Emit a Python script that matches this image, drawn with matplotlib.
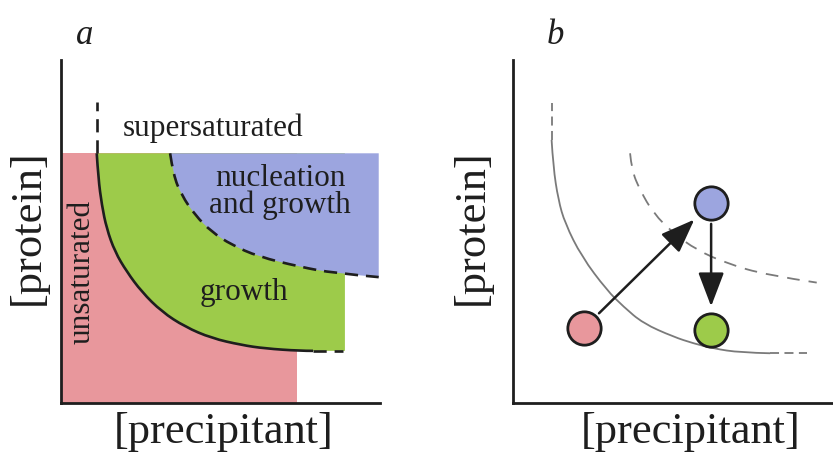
import matplotlib.pyplot as plt
from matplotlib.path import Path
from matplotlib.patches import PathPatch

plt.rcParams['font.family'] = ['Liberation Serif', 'DejaVu Serif']

# panel a: solubility curve (solid part) and nucleation boundary
sol_a_x = [1.12, 1.17, 1.28, 1.43, 1.69, 2.06, 2.53, 3.16, 3.89, 4.72, 5.66, 6.39, 7.49, 7.90]
sol_a_y = [7.28, 6.55, 5.77, 5.09, 4.41, 3.83, 3.24, 2.66, 2.22, 1.89, 1.69, 1.59, 1.52, 1.52]
sol_a_top = 8.78      # dashed continuation upwards
sol_a_end = 8.84      # dashed continuation to the right
nuc_a_x = [3.42, 3.52, 3.78, 4.20, 4.72, 5.35, 6.18, 7.49, 8.53, 9.96]
nuc_a_y = [7.28, 6.65, 6.06, 5.48, 4.99, 4.61, 4.27, 3.97, 3.79, 3.67]
plateau = 7.28
unsat_right = 7.39
growth_right = 8.90

# panel b
sol_b_x = [1.21, 1.26, 1.42, 1.63, 2.15, 2.94, 3.46, 4.08, 5.03, 5.65, 6.28, 7.12, 8.06]
sol_b_y = [7.67, 6.89, 5.92, 5.24, 4.27, 3.29, 2.81, 2.32, 1.93, 1.74, 1.59, 1.47, 1.45]
sol_b_top = 8.74
sol_b_end = 9.21
nuc_b_x = [3.67, 3.72, 3.98, 4.40, 5.03, 5.76, 6.70, 7.95, 9.52]
nuc_b_y = [7.28, 6.79, 6.21, 5.53, 4.95, 4.46, 4.07, 3.73, 3.51]
drop_names = ['unsaturated', 'nucleation', 'growth']
drop_x = [2.23, 6.21, 6.21]
drop_y = [2.19, 5.83, 2.13]

pink = '#e8979c'
green = '#9dcb4a'
blue = '#9ca5df'
ink = '#1e1e1e'
grey = '#7a7a7a'
W, H = 833, 457


def smooth(xs, ys, extra=None):
    # quadratic b-spline through the read points, drawn by matplotlib's Path
    pts = list(zip(xs, ys))
    verts = [pts[0]]
    codes = [Path.MOVETO]
    for i in range(1, len(pts) - 1):
        if i == len(pts) - 2:
            end = pts[-1]
        else:
            end = ((pts[i][0] + pts[i + 1][0]) / 2, (pts[i][1] + pts[i + 1][1]) / 2)
        verts += [pts[i], end]
        codes += [Path.CURVE3, Path.CURVE3]
    if extra:
        for p in extra:
            verts.append(p)
            codes.append(Path.LINETO)
        verts.append(pts[0])
        codes.append(Path.CLOSEPOLY)
    return Path(verts, codes)


fig = plt.figure(figsize=(W / 100, H / 100), dpi=100)
ax_a = fig.add_axes([61 / W, 54 / H, 319 / W, 343 / H])
ax_b = fig.add_axes([513 / W, 54 / H, 320 / W, 343 / H])

for ax, xmax in [(ax_a, 10), (ax_b, 10.03)]:
    ax.set_xlim(0, xmax)
    ax.set_ylim(0, 10)
    ax.spines['top'].set_visible(False)
    ax.spines['right'].set_visible(False)
    for s in ['left', 'bottom']:
        ax.spines[s].set_linewidth(2)
        ax.spines[s].set_color(ink)
    ax.set_xticks([])
    ax.set_yticks([])
    ax.patch.set_alpha(0)

# --- panel a ---
ax_a.fill_between([0, unsat_right], 0, plateau, color=pink, lw=0, zorder=1)
ax_a.add_patch(PathPatch(smooth(sol_a_x, sol_a_y,
                                [(growth_right, sol_a_y[-1]), (growth_right, plateau)]),
                         fc=green, lw=0, zorder=1.1))
ax_a.add_patch(PathPatch(smooth(nuc_a_x, nuc_a_y, [(nuc_a_x[-1], plateau)]),
                         fc=blue, lw=0, zorder=1.2))

ax_a.add_patch(PathPatch(smooth(sol_a_x, sol_a_y), fill=False, ec=ink, lw=1.9, zorder=3))
ax_a.plot([sol_a_x[0], sol_a_x[0]], [sol_a_y[0], sol_a_top], color=ink, lw=1.9,
          dashes=(5, 3), zorder=3)
ax_a.plot([sol_a_x[-1], sol_a_end], [sol_a_y[-1], sol_a_y[-1]], color=ink, lw=1.9,
          dashes=(5, 3), zorder=3)
ax_a.add_patch(PathPatch(smooth(nuc_a_x, nuc_a_y), fill=False, ec=ink, lw=1.9,
                         ls=(0, (5, 3)), zorder=3))

txt = dict(color=ink, fontsize=22.5, ha='center', va='center', zorder=4)
ax_a.text(4.76, 8.02, 'supersaturated', **txt)
ax_a.text(6.87, 6.15, 'nucleation\nand growth', linespacing=0.9, **txt)
ax_a.text(5.74, 3.21, 'growth', **txt)
ax_a.text(0.66, 3.82, 'unsaturated', rotation=90, **txt)

# --- panel b ---
ax_b.add_patch(PathPatch(smooth(sol_b_x, sol_b_y), fill=False, ec=grey, lw=1.3, zorder=2))
ax_b.plot([sol_b_x[0], sol_b_x[0]], [sol_b_y[0], sol_b_top], color=grey, lw=1.3,
          dashes=(5, 3), zorder=2)
ax_b.plot([sol_b_x[-1], sol_b_end], [sol_b_y[-1], sol_b_y[-1]], color=grey, lw=1.3,
          dashes=(5, 3), zorder=2)
ax_b.add_patch(PathPatch(smooth(nuc_b_x, nuc_b_y), fill=False, ec=grey, lw=1.3,
                         ls=(0, (7, 5)), zorder=2))

for name, x, y, c in zip(drop_names, drop_x, drop_y, [pink, blue, green]):
    ax_b.plot(x, y, 'o', ms=24, mfc=c, mec=ink, mew=2, zorder=5)

arrow = dict(arrowstyle='-|>,head_length=1.05,head_width=0.4', mutation_scale=20,
             color=ink, lw=1.8, shrinkA=15, shrinkB=17)
ax_b.annotate('', xy=(drop_x[1], drop_y[1]), xytext=(drop_x[0], drop_y[0]),
              arrowprops=arrow, zorder=4)
ax_b.annotate('', xy=(drop_x[2], drop_y[2]), xytext=(drop_x[1], drop_y[1]),
              arrowprops=arrow, zorder=4)

# --- labels ---
lab = dict(color=ink, fontsize=32, ha='center', va='center')
fig.text(28 / W, 1 - 227 / H, '[protein]', rotation=90, **lab)
fig.text(224 / W, 1 - 432 / H, '[precipitant]', **lab)
fig.text(472 / W, 1 - 227 / H, '[protein]', rotation=90, **lab)
fig.text(691 / W, 1 - 432 / H, '[precipitant]', **lab)
fig.text(85 / W, 1 - 35 / H, 'a', style='italic', color=ink, fontsize=25, ha='center', va='center')
fig.text(555 / W, 1 - 35 / H, 'b', style='italic', color=ink, fontsize=25, ha='center', va='center')

fig.savefig('out.png', dpi=100)
